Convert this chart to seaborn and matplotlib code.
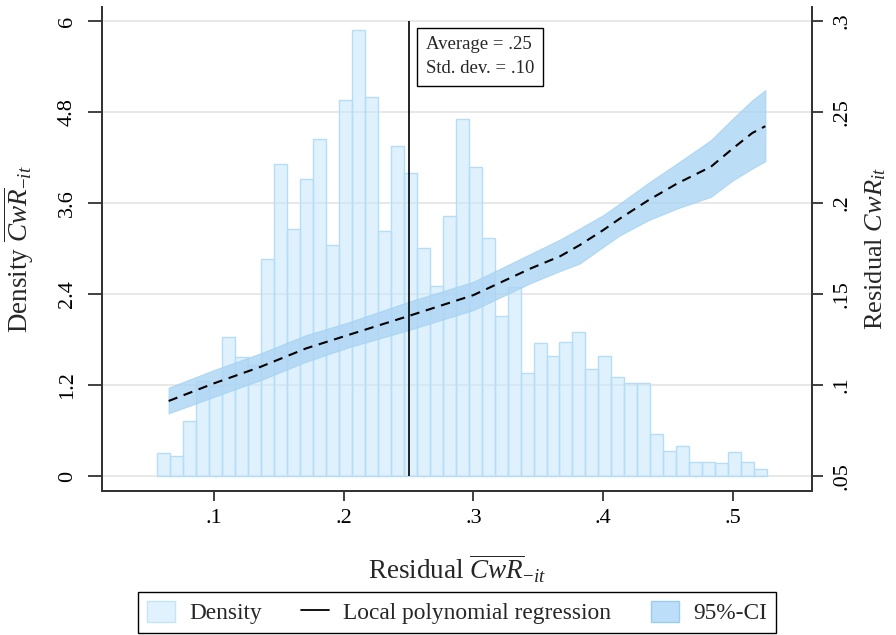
import numpy as np
import pandas as pd
import matplotlib
matplotlib.use("Agg")
import matplotlib.pyplot as plt
import seaborn as sns
from matplotlib.patches import Patch
from matplotlib.lines import Line2D

# Histogram of the residual (density per bin of width .01)
bin_start = 0.0563
bin_width = 0.01
density = [0.30, 0.26, 0.73, 1.25, 1.18, 1.83, 1.57, 1.46, 2.86, 4.11,
           3.26, 3.91, 4.44, 3.05, 4.96, 5.88, 5.00, 3.23, 4.35, 4.00,
           3.01, 2.51, 3.43, 4.71, 4.07, 3.14, 2.11, 2.49, 1.36, 1.75,
           1.58, 1.77, 1.90, 1.41, 1.58, 1.31, 1.23, 1.23, 0.55, 0.33,
           0.39, 0.19, 0.18, 0.17, 0.31, 0.19, 0.09]

# Local polynomial fit with 95% confidence band (right axis)
reg_x = [0.065, 0.100, 0.136, 0.171, 0.205, 0.250, 0.300, 0.344, 0.367,
         0.382, 0.400, 0.413, 0.435, 0.457, 0.483, 0.500, 0.515, 0.525]
reg_fit = [0.0912, 0.1009, 0.1100, 0.1201, 0.1278, 0.1379, 0.1494, 0.1640,
           0.1708, 0.1769, 0.1851, 0.1915, 0.2016, 0.2107, 0.2199, 0.2300,
           0.2385, 0.2422]
reg_upper = [0.0985, 0.1082, 0.1174, 0.1274, 0.1347, 0.1457, 0.1567, 0.1720,
             0.1800, 0.1860, 0.1933, 0.1998, 0.2111, 0.2217, 0.2345, 0.2464,
             0.2565, 0.2620]
reg_lower = [0.0844, 0.0935, 0.1027, 0.1128, 0.1210, 0.1302, 0.1412, 0.1560,
             0.1627, 0.1668, 0.1759, 0.1823, 0.1906, 0.1970, 0.2034, 0.2125,
             0.2190, 0.2230]

mean_value = 0.25
sd_value = 0.10

x_ticks = [0.1, 0.2, 0.3, 0.4, 0.5]
x_ticklabels = [".1", ".2", ".3", ".4", ".5"]
left_ticks = [0, 1.2, 2.4, 3.6, 4.8, 6]
left_ticklabels = ["0", "1.2", "2.4", "3.6", "4.8", "6"]
right_ticks = [0.05, 0.1, 0.15, 0.2, 0.25, 0.3]
right_ticklabels = [".05", ".1", ".15", ".2", ".25", ".3"]

sns.set_theme(style="white")
plt.rcParams["font.family"] = ["Liberation Serif", "DejaVu Serif"]
plt.rcParams["mathtext.fontset"] = "custom"
plt.rcParams["mathtext.rm"] = "Liberation Serif"
plt.rcParams["mathtext.it"] = "Liberation Serif:italic"
plt.rcParams["mathtext.bf"] = "Liberation Serif:bold"

spine_col = "#333333"
hist_face = "#c6e7fc"
hist_edge = "#b6ddf8"
ci_face = "#acd5f4"
tick_size = 16
title_size = 19.5

fig = plt.figure(figsize=(8.96, 6.35), dpi=100)
ax = fig.add_axes([0.1138, 0.2273, 0.7925, 0.7617])

n_bins = len(density)
centers = [bin_start + bin_width * (i + 0.5) for i in range(n_bins)]
hist_df = pd.DataFrame({"x": centers, "w": density})

ax.yaxis.grid(True, color="#e8e8e8", linewidth=1.4)
ax.set_axisbelow(True)
sns.histplot(data=hist_df, x="x", weights="w", binwidth=bin_width,
             binrange=(bin_start, bin_start + bin_width * n_bins),
             stat="count", color=hist_face, edgecolor=hist_edge, alpha=0.55,
             linewidth=1.0, ax=ax, zorder=2)

x_lo, x_hi = 0.0136, 0.561
y_lo, y_hi = -0.194, 6.185
ax.set_xlim(x_lo, x_hi)
ax.set_ylim(y_lo, y_hi)

# Right axis shares the same vertical span: 0 -> .05 and 6 -> .3
def to_right(v):
    return 0.05 + v * (0.25 / 6)

ax2 = ax.twinx()
ax2.set_ylim(to_right(y_lo), to_right(y_hi))

reg_df = pd.DataFrame({"x": reg_x, "fit": reg_fit})
ax2.fill_between(reg_x, reg_lower, reg_upper, color=ci_face, alpha=0.8,
                 linewidth=0.8, edgecolor="#a4d2f3", zorder=2)
sns.lineplot(data=reg_df, x="x", y="fit", ax=ax2, color="black",
             linewidth=1.5, dashes=(4.5, 3.2), zorder=3)
ax2.vlines(mean_value, to_right(0), to_right(6), color="black",
           linewidth=1.2, zorder=4)

ax2.text(0.2632, to_right(5.80),
         f"Average = .{int(round(mean_value * 100))}\nStd. dev. = .{int(round(sd_value * 100)):02d}",
         ha="left", va="top", fontsize=13.5, linespacing=1.55, zorder=5,
         bbox=dict(boxstyle="square,pad=0.45", facecolor="white",
                   edgecolor="black", linewidth=1.0))

# Axes, ticks and labels
ax.set_xticks(x_ticks)
ax.set_xticklabels(x_ticklabels)
ax.set_yticks(left_ticks)
ax.set_yticklabels(left_ticklabels, rotation=90, va="center")
ax2.set_yticks(right_ticks)
ax2.set_yticklabels(right_ticklabels, rotation=90, va="center")
ax2.set_xlim(x_lo, x_hi)

for a in (ax, ax2):
    a.spines["top"].set_visible(False)
    for s in ("left", "right", "bottom"):
        a.spines[s].set_color(spine_col)
        a.spines[s].set_linewidth(1.3)

ax.tick_params(axis="x", direction="out", length=7, width=1.3,
               color=spine_col, labelsize=tick_size, pad=6, labelcolor="black")
ax.tick_params(axis="y", direction="out", length=10, width=1.3,
               color=spine_col, labelsize=tick_size, pad=8, labelcolor="black")
ax2.tick_params(axis="y", direction="out", length=8, width=1.3,
                color=spine_col, labelsize=tick_size, pad=7, labelcolor="black")
ax.tick_params(left=True, bottom=True)
ax2.tick_params(right=True)

ax.set_xlabel(r"Residual $\overline{CwR}_{\mathit{-it}}$", fontsize=title_size,
              labelpad=18)
ax.set_ylabel(r"Density $\overline{CwR}_{\mathit{-it}}$", fontsize=title_size,
              labelpad=16)
ax2.set_ylabel(r"Residual $CwR_{it}$", fontsize=19, labelpad=8)

handles = [
    Patch(facecolor="#dff2fd", edgecolor="#c4e5fa", linewidth=1.0),
    Line2D([0], [0], color="black", linewidth=1.3),
    Patch(facecolor="#bcdef8", edgecolor="#99ccf2", linewidth=1.0),
]
labels = ["Density", "Local polynomial regression", "95%-CI"]
leg = fig.legend(handles, labels, ncol=3, loc="upper center",
                 bbox_to_anchor=(457 / 896, 1 - 592 / 635),
                 bbox_transform=fig.transFigure, fontsize=16.8,
                 frameon=True, fancybox=False, framealpha=1,
                 edgecolor="black", borderpad=0.38, handlelength=1.2,
                 handleheight=1.0, handletextpad=0.6, columnspacing=1.7,
                 borderaxespad=0)
leg.get_frame().set_linewidth(1.0)

fig.savefig("out.png", dpi=100)
